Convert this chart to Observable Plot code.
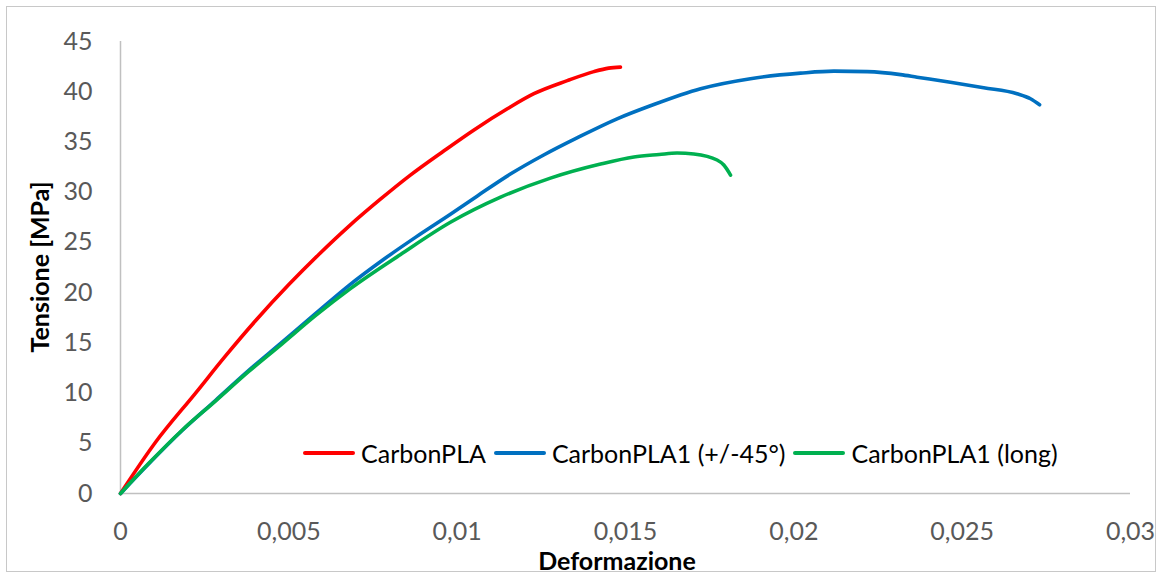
<!DOCTYPE html>
<html>
<head>
<meta charset="utf-8">
<script src="https://cdn.jsdelivr.net/npm/d3@7"></script>
<script src="https://cdn.jsdelivr.net/npm/@observablehq/plot@0.6"></script>
<style>
  html, body { margin: 0; padding: 0; background: #fff; }
  #wrap { position: relative; width: 1163px; height: 577px; overflow: hidden; font-family: Lato, "Open Sans", sans-serif; }
  #frame { position: absolute; left: 6px; top: 6px; width: 1150px; height: 566px; border: 1px solid #c8c8c8; box-sizing: border-box; pointer-events: none; }
  #chart { position: absolute; left: 0; top: 0; }
  .title { position: absolute; font-weight: bold; font-size: 25px; color: #000; white-space: nowrap; }
  #xtitle { left: 0; width: 1234px; text-align: center; top: 548px; line-height: 25px; }
  #ytitle { left: 39px; top: 267px; transform: translate(-50%, -50%) rotate(-90deg); line-height: 30px; }
  #legend { position: absolute; left: 303px; top: 438px; display: flex; align-items: center; font-size: 25px; color: #000; white-space: nowrap; line-height: 30px; }
  .sw { display: inline-block; width: 52px; height: 4px; border-radius: 2px; margin-right: 6px; }
  .item { display: flex; align-items: center; margin-right: 8px; }
</style>
</head>
<body>
<div id="wrap">
  <div id="chart"></div>
  <div id="frame"></div>
  <div id="ytitle" class="title">Tensione [MPa]</div>
  <div id="xtitle" class="title">Deformazione</div>
  <div id="legend"></div>
</div>
<script>
const seriesNames = ["CarbonPLA", "CarbonPLA1 (+/-45°)", "CarbonPLA1 (long)"];
const seriesColors = ["#ff0000", "#0070c0", "#00b050"];

const strainRed = [0, 0.00104, 0.00223, 0.00312, 0.00401, 0.0050, 0.00589, 0.00678, 0.00772, 0.00861, 0.0096, 0.0105, 0.01149, 0.01228, 0.01327, 0.01406, 0.01450, 0.01485];
const stressRed = [0, 5.1, 10.0, 13.7, 17.2, 20.8, 23.8, 26.6, 29.3, 31.7, 34.1, 36.2, 38.3, 39.8, 41.1, 42.0, 42.35, 42.45];

const strainBlue = [0, 0.00084, 0.00183, 0.00282, 0.00381, 0.0048, 0.00579, 0.00678, 0.00777, 0.00876, 0.0098, 0.01059, 0.01158, 0.01257, 0.01356, 0.01475, 0.01574, 0.01723, 0.01871, 0.0202, 0.02119, 0.02218, 0.02317, 0.02366, 0.02465, 0.02564, 0.02663, 0.02703, 0.0273];
const stressBlue = [0, 2.96, 6.27, 9.26, 12.25, 15.06, 17.9, 20.7, 23.2, 25.5, 27.8, 29.6, 31.8, 33.7, 35.4, 37.3, 38.6, 40.3, 41.3, 41.85, 42.05, 42.0, 41.7, 41.45, 40.95, 40.4, 39.8, 39.3, 38.7];

const strainGreen = [0, 0.00084, 0.00183, 0.00282, 0.00381, 0.0048, 0.00579, 0.00683, 0.00832, 0.0098, 0.01129, 0.01277, 0.01426, 0.01525, 0.0160, 0.01653, 0.01703, 0.01772, 0.01792, 0.01812];
const stressGreen = [0, 3.0, 6.3, 9.2, 12.15, 14.9, 17.7, 20.4, 23.8, 27.0, 29.5, 31.4, 32.8, 33.5, 33.75, 33.9, 33.8, 33.2, 32.7, 31.7];

const xTicks = [0, 0.005, 0.01, 0.015, 0.02, 0.025, 0.03];
const xTickLabels = ["0", "0,005", "0,01", "0,015", "0,02", "0,025", "0,03"];
const yTicks = [0, 5, 10, 15, 20, 25, 30, 35, 40, 45];

const table = [];
[[strainRed, stressRed], [strainBlue, stressBlue], [strainGreen, stressGreen]].forEach(([xs, ys], i) => {
  xs.forEach((x, j) => table.push({ series: seriesNames[i], strain: x, stress: ys[j] }));
});

const fmtX = d => xTickLabels[xTicks.indexOf(d)];

const plot = Plot.plot({
  width: 1163,
  height: 577,
  marginLeft: 120,
  marginRight: 33,
  marginTop: 41,
  marginBottom: 84,
  style: { fontFamily: "Lato, 'Open Sans', sans-serif", fontSize: "25px", color: "#595959", background: "transparent" },
  x: { domain: [0, 0.03] },
  y: { domain: [0, 45] },
  color: { domain: seriesNames, range: seriesColors },
  marks: [
    Plot.ruleX([0], { stroke: "#c0c0c0", strokeWidth: 1.5 }),
    Plot.ruleY([0], { stroke: "#c0c0c0", strokeWidth: 1.5 }),
    Plot.axisY(yTicks, { tickSize: 0, tickPadding: 28, label: null, fill: "#595959" }),
    Plot.axisX(xTicks, { tickSize: 0, tickPadding: 29, label: null, tickFormat: fmtX, fill: "#595959" }),
    Plot.line(table, { x: "strain", y: "stress", z: "series", stroke: "series", strokeWidth: 3.6, curve: "monotone-x" })
  ]
});
document.getElementById("chart").appendChild(plot);

const legend = document.getElementById("legend");
seriesNames.forEach((n, i) => {
  const it = document.createElement("div");
  it.className = "item";
  const sw = document.createElement("span");
  sw.className = "sw";
  sw.style.background = seriesColors[i];
  const t = document.createElement("span");
  t.textContent = n;
  it.appendChild(sw);
  it.appendChild(t);
  legend.appendChild(it);
});
</script>
</body>
</html>
